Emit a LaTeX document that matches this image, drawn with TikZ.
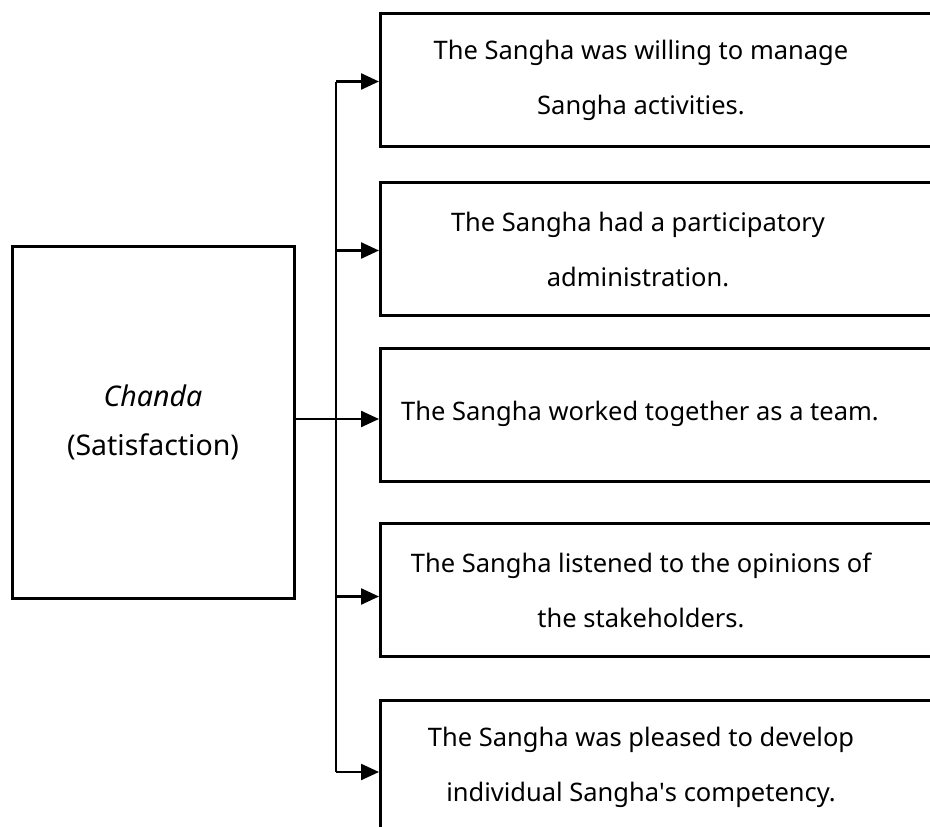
\documentclass[tikz,border=0pt]{standalone}
\usepackage{fontspec}
\setmainfont{Noto Sans}
\usetikzlibrary{arrows.meta}
\begin{document}
\begin{tikzpicture}[x=1pt,y=-1pt,
  box/.style={draw, line width=3pt, rectangle, inner sep=0pt},
  leftbox/.style={box, minimum width=282pt, minimum height=352pt,
    align=center, font=\fontsize{28.5}{49}\selectfont},
  rightbox/.style={box, minimum width=560pt, minimum height=133pt, anchor=north west},
  txt/.style={font=\fontsize{25.5}{55}\selectfont, align=center, inner sep=0pt},
  link/.style={line width=2.4pt},
  trunk/.style={line width=1.6pt},
  arr/.style={link, -{Triangle[length=18pt,width=16pt]}}
]
\useasboundingbox (0,0) rectangle (930,827);

% source box
\node[leftbox] (L) at (153,422) {\textit{Chanda}\\(Satisfaction)};

% outcome boxes
\node[rightbox] (b1) at (379,12)  {};
\node[rightbox] (b2) at (379,181) {};
\node[rightbox] (b3) at (379,347) {};
\node[rightbox] (b4) at (379,522) {};
\node[rightbox] (b5) at (379,699) {};

\node[txt] (t1) at (641,80)  {The Sangha was willing to manage\\Sangha activities.};
\node[txt] (t2) at (638,249) {The Sangha had a participatory\\administration.};
\node[txt] (t3) at (640,414) {The Sangha worked together as a team.};
\node[txt] (t4) at (641,590) {The Sangha listened to the opinions of\\the stakeholders.};
\node[txt] (t5) at (641,767) {The Sangha was pleased to develop\\individual Sangha\textquotesingle s competency.};

% arrow targets on the outcome boxes
\coordinate (a1) at ([yshift=-1.5pt]b1.west);
\coordinate (a2) at ([yshift=-1.5pt]b2.west);
\coordinate (a3) at ([yshift=-4pt]b3.west);
\coordinate (a4) at ([yshift=-6.5pt]b4.west);
\coordinate (a5) at ([yshift=-5pt]b5.west);
\coordinate (tk) at (336,0);

% branching connector
\draw[trunk] (tk |- a1) -- (tk |- a5);
\draw[link] (L.east |- a3) -- (tk |- a3);
\foreach \i in {1,...,5}
  \draw[arr] (tk |- a\i) -- (a\i);
\end{tikzpicture}
\end{document}
